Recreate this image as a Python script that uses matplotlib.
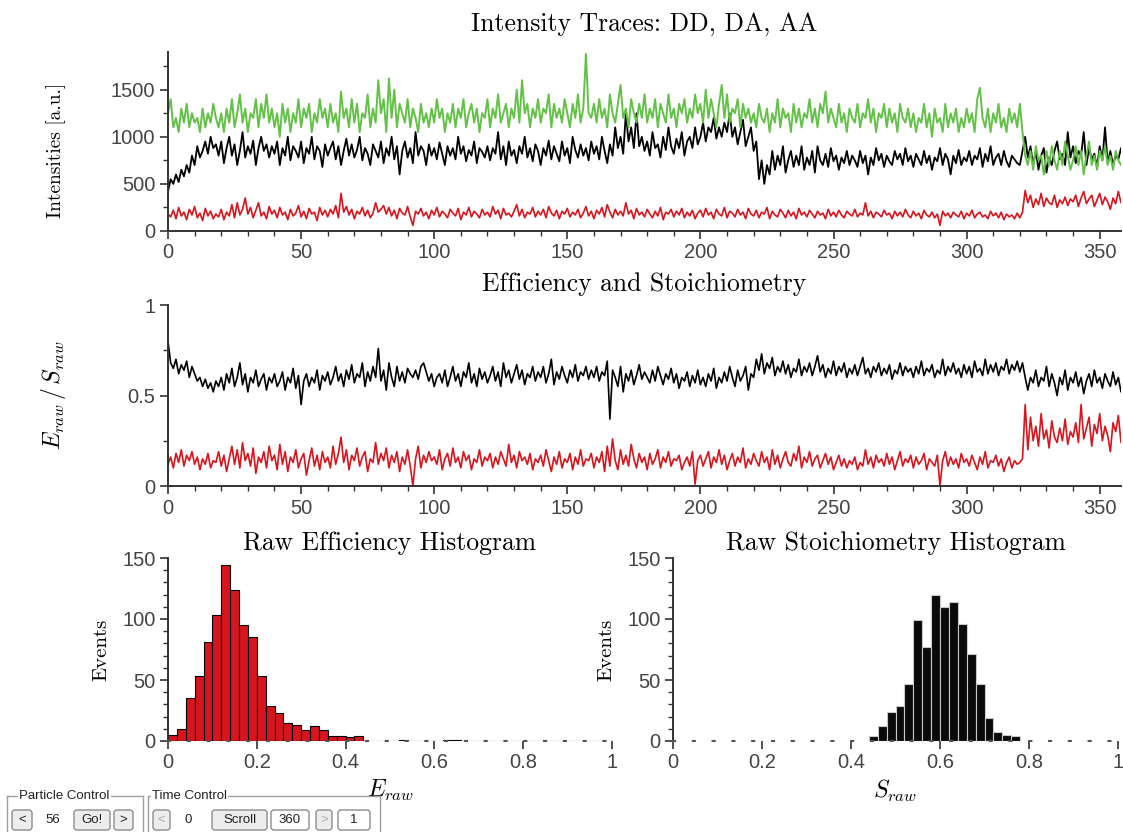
import numpy as np
import matplotlib
matplotlib.use("Agg")
import matplotlib.pyplot as plt
from matplotlib.patches import FancyBboxPatch
from matplotlib.lines import Line2D
from matplotlib.transforms import Affine2D
from matplotlib.ticker import MultipleLocator

plt.rcParams["mathtext.fontset"] = "cm"

# ---------------- data ----------------
time_arr = np.arange(0, 361)

aa_trace = [
    1250, 1400, 1100, 1200, 1050, 1300, 1150, 1350, 1100, 1250, 1150, 1200, 1050, 1300, 1100, 1250, 1150, 1350, 1200, 1100,
    1250, 1050, 1300, 1150, 1400, 1100, 1250, 1450, 1150, 1300, 1050, 1250, 1200, 1400, 1100, 1350, 1200, 1450, 1150, 1300,
    1100, 1250, 1000, 1350, 1150, 1300, 1050, 1250, 1150, 1400, 1100, 1300, 1200, 1350, 1050, 1250, 1150, 1400, 1200, 1300,
    1100, 1350, 1150, 1250, 1050, 1480, 1200, 1300, 1100, 1400, 1150, 1350, 1050, 1250, 1200, 1450, 1100, 1300, 1150, 1600,
    1250, 1400, 1050, 1620, 1200, 1500, 1100, 1350, 1250, 1150, 1400, 1100, 1300, 1200, 1050, 1350, 1150, 1250, 1100, 1300,
    1150, 1400, 1200, 1300, 1050, 1250, 1150, 1350, 1100, 1300, 1200, 1400, 1100, 1250, 1350, 1150, 1300, 1050, 1250, 1200,
    1400, 1100, 1300, 1200, 1450, 1150, 1250, 1350, 1100, 1300, 1200, 1500, 1150, 1600, 1250, 1350, 1100, 1300, 1200, 1400,
    1150, 1300, 1250, 1450, 1100, 1350, 1200, 1300, 1150, 1400, 1250, 1100, 1350, 1200, 1450, 1150, 1300, 1880, 1250, 1200,
    1350, 1150, 1400, 1200, 1300, 1100, 1450, 1250, 1150, 1350, 1550, 1200, 1300, 1100, 1400, 1250, 1150, 1350, 1200, 1450,
    1150, 1300, 1200, 1400, 1100, 1350, 1250, 1150, 1450, 1200, 1300, 1100, 1350, 1250, 1400, 1150, 1300, 1200, 1450, 1250,
    1350, 1150, 1500, 1200, 1400, 1250, 1100, 1350, 1550, 1200, 1450, 1150, 1300, 1250, 1400, 1100, 1350, 1200, 1300, 1150,
    1250, 1100, 1350, 1200, 1150, 1300, 1050, 1250, 1150, 1400, 1100, 1300, 1200, 1250, 1050, 1350, 1150, 1300, 1100, 1250,
    1200, 1400, 1150, 1300, 1100, 1350, 1250, 1480, 1150, 1300, 1200, 1100, 1350, 1150, 1250, 1050, 1300, 1200, 1150, 1350,
    1100, 1250, 1200, 1400, 1150, 1300, 1050, 1250, 1200, 1350, 1100, 1300, 1150, 1250, 1050, 1350, 1200, 1150, 1300, 1100,
    1250, 1050, 1200, 1150, 1350, 1100, 1250, 1000, 1300, 1150, 1200, 1050, 1350, 1100, 1250, 1150, 1300, 1050, 1200, 1100,
    1300, 1150, 1250, 1050, 1400, 1520, 1200, 1100, 1300, 1050, 1250, 1150, 1350, 1100, 1200, 1050, 1300, 1150, 1250, 1100,
    1350, 1050, 800, 700, 850, 650, 900, 750, 800, 600, 850, 700, 900, 750, 650, 850, 700, 950, 800, 650,
    750, 900, 700, 850, 600, 800, 950, 700, 800, 650, 850, 750, 900, 700, 800, 650, 850, 750, 700, 800,
    750,
]

dd_trace = [
    420, 550, 500, 600, 520, 650, 580, 700, 620, 800, 700, 900, 780, 850, 950, 820, 1000, 880, 920, 800,
    950, 720, 880, 1000, 800, 920, 700, 850, 1050, 780, 900, 820, 960, 700, 880, 1000, 850, 920, 780, 900,
    820, 950, 700, 880, 800, 1000, 750, 900, 850, 780, 950, 720, 880, 820, 1000, 760, 900, 850, 680, 920,
    800, 880, 950, 760, 900, 700, 850, 980, 800, 920, 780, 860, 1000, 750, 880, 820, 700, 920, 850, 780,
    950, 720, 880, 800, 1000, 760, 900, 600, 850, 950, 780, 880, 720, 1050, 800, 900, 850, 700, 920, 800,
    880, 760, 940, 820, 700, 900, 800, 880, 760, 1000, 820, 900, 740, 860, 800, 950, 720, 880, 840, 780,
    900, 750, 880, 820, 1050, 760, 900, 700, 950, 800, 860, 720, 900, 820, 1000, 780, 880, 740, 920, 850,
    700, 880, 800, 960, 760, 900, 820, 740, 950, 800, 880, 720, 1000, 860, 780, 920, 800, 880, 750, 950,
    820, 900, 760, 1000, 850, 720, 920, 800, 1100, 880, 1000, 820, 1250, 950, 1100, 880, 1250, 900, 1000, 850,
    950, 800, 1050, 880, 920, 780, 1000, 860, 1100, 900, 820, 980, 880, 1050, 800, 950, 1000, 880, 1100, 920,
    1000, 1150, 950, 1100, 1050, 1200, 980, 1100, 1000, 1150, 1050, 1250, 1000, 1100, 920, 1050, 1180, 900, 1000, 1100,
    850, 950, 550, 750, 500, 700, 600, 850, 650, 800, 700, 900, 620, 750, 850, 680, 800, 700, 900, 650,
    780, 700, 850, 620, 900, 750, 700, 820, 680, 880, 740, 800, 650, 780, 720, 850, 700, 800, 750, 680,
    850, 720, 800, 600, 780, 700, 880, 750, 820, 680, 800, 740, 700, 850, 760, 820, 700, 880, 740, 800,
    680, 820, 760, 700, 850, 720, 800, 650, 780, 740, 880, 700, 820, 760, 600, 800, 720, 860, 700, 780,
    740, 850, 700, 800, 760, 880, 680, 820, 740, 900, 700, 780, 820, 700, 850, 740, 680, 800, 760, 720,
    700, 850, 1000, 780, 900, 700, 850, 650, 800, 880, 620, 780, 700, 850, 950, 760, 820, 700, 1050, 780,
    900, 720, 850, 800, 1050, 700, 880, 760, 820, 680, 900, 750, 1100, 720, 850, 700, 800, 760, 880, 720,
    800,
]

da_trace = [
    180, 150, 220, 130, 250, 160, 200, 120, 230, 170, 260, 140, 190, 110, 240, 160, 210, 130, 180, 150,
    230, 120, 200, 160, 280, 140, 300, 170, 230, 350, 180, 250, 140, 220, 300, 160, 200, 130, 260, 180,
    220, 140, 250, 170, 200, 120, 230, 160, 190, 270, 150, 210, 130, 240, 180, 200, 110, 250, 170, 220,
    150, 230, 180, 270, 140, 400, 200, 260, 170, 230, 130, 210, 180, 250, 160, 220, 140, 190, 300, 200,
    230, 270, 180, 250, 160, 220, 130, 240, 190, 170, 260, 150, 60, 210, 180, 240, 160, 200, 130, 220,
    170, 250, 150, 210, 180, 140, 230, 190, 160, 240, 120, 200, 170, 250, 150, 210, 180, 140, 230, 170,
    200, 150, 260, 180, 220, 130, 240, 170, 190, 150, 210, 280, 160, 230, 140, 200, 180, 250, 150, 210,
    170, 230, 140, 260, 190, 160, 220, 130, 210, 180, 240, 150, 200, 170, 230, 140, 190, 260, 160, 210,
    130, 220, 180, 250, 150, 280, 200, 140, 230, 170, 210, 160, 300, 180, 220, 130, 240, 170, 200, 150,
    230, 180, 140, 210, 160, 250, 120, 200, 180, 230, 150, 210, 170, 240, 140, 200, 160, 220, 130, 190,
    220, 150, 240, 170, 200, 130, 230, 180, 160, 250, 140, 210, 190, 150, 230, 170, 200, 130, 240, 180,
    160, 220, 140, 200, 180, 250, 130, 210, 170, 150, 230, 190, 140, 220, 160, 200, 130, 240, 170, 200,
    150, 220, 180, 140, 210, 170, 190, 130, 230, 160, 200, 150, 220, 170, 140, 210, 180, 160, 230, 150,
    190, 170, 300, 160, 210, 140, 200, 180, 150, 220, 170, 190, 130, 210, 160, 200, 150, 230, 170, 140,
    210, 160, 190, 130, 220, 170, 150, 200, 140, 180, 60, 210, 160, 190, 140, 200, 170, 150, 210, 130,
    190, 160, 220, 140, 180, 200, 150, 170, 130, 210, 160, 190, 140, 200, 120, 180, 150, 170, 130, 190,
    140, 200, 430, 300, 380, 250, 340, 280, 400, 260, 350, 300, 280, 380, 250, 330, 290, 360, 270, 340,
    310, 380, 260, 350, 420, 290, 340, 380, 260, 330, 400, 280, 360, 310, 230, 350, 290, 420, 300, 360,
    330,
]

s_raw = [
    0.80, 0.68, 0.65, 0.70, 0.62, 0.67, 0.64, 0.69, 0.60, 0.66, 0.62, 0.58, 0.60, 0.55, 0.59, 0.54, 0.57, 0.52, 0.58, 0.55,
    0.60, 0.53, 0.62, 0.57, 0.65, 0.55, 0.60, 0.68, 0.56, 0.62, 0.52, 0.60, 0.57, 0.64, 0.55, 0.59, 0.62, 0.53, 0.60, 0.57,
    0.62, 0.55, 0.58, 0.63, 0.53, 0.60, 0.57, 0.65, 0.54, 0.61, 0.45, 0.58, 0.62, 0.55, 0.60, 0.57, 0.64, 0.53, 0.61, 0.58,
    0.63, 0.56, 0.60, 0.66, 0.58, 0.62, 0.55, 0.64, 0.59, 0.67, 0.57, 0.62, 0.60, 0.68, 0.55, 0.63, 0.58, 0.66, 0.60, 0.76,
    0.58, 0.64, 0.53, 0.68, 0.60, 0.55, 0.66, 0.58, 0.63, 0.57, 0.65, 0.62, 0.60, 0.64, 0.59, 0.66, 0.68, 0.63, 0.58, 0.62,
    0.55, 0.60, 0.62, 0.57, 0.64, 0.55, 0.60, 0.66, 0.58, 0.62, 0.55, 0.63, 0.60, 0.68, 0.57, 0.62, 0.55, 0.65, 0.59, 0.63,
    0.57, 0.61, 0.66, 0.58, 0.63, 0.55, 0.68, 0.60, 0.64, 0.57, 0.62, 0.67, 0.59, 0.64, 0.56, 0.62, 0.60, 0.66, 0.58, 0.63,
    0.60, 0.66, 0.57, 0.62, 0.70, 0.56, 0.63, 0.59, 0.66, 0.61, 0.57, 0.64, 0.60, 0.67, 0.58, 0.63, 0.61, 0.66, 0.59, 0.64,
    0.60, 0.66, 0.58, 0.63, 0.61, 0.69, 0.37, 0.64, 0.60, 0.55, 0.66, 0.52, 0.62, 0.58, 0.64, 0.56, 0.61, 0.67, 0.59, 0.63,
    0.60, 0.57, 0.64, 0.58, 0.66, 0.61, 0.56, 0.62, 0.59, 0.65, 0.57, 0.62, 0.54, 0.60, 0.58, 0.63, 0.55, 0.61, 0.57, 0.64,
    0.56, 0.60, 0.55, 0.62, 0.58, 0.65, 0.54, 0.60, 0.57, 0.63, 0.58, 0.66, 0.60, 0.55, 0.64, 0.58, 0.61, 0.66, 0.53, 0.62,
    0.60, 0.70, 0.64, 0.73, 0.62, 0.68, 0.65, 0.71, 0.61, 0.66, 0.63, 0.69, 0.62, 0.67, 0.60, 0.65, 0.63, 0.70, 0.61, 0.66,
    0.63, 0.68, 0.61, 0.66, 0.72, 0.63, 0.67, 0.60, 0.65, 0.62, 0.69, 0.61, 0.66, 0.63, 0.68, 0.60, 0.65, 0.62, 0.67, 0.61,
    0.66, 0.71, 0.62, 0.65, 0.60, 0.66, 0.63, 0.68, 0.61, 0.65, 0.62, 0.67, 0.59, 0.64, 0.62, 0.68, 0.61, 0.66, 0.63, 0.65,
    0.60, 0.66, 0.62, 0.69, 0.61, 0.65, 0.63, 0.67, 0.60, 0.64, 0.62, 0.70, 0.61, 0.66, 0.63, 0.68, 0.62, 0.65, 0.60, 0.67,
    0.62, 0.66, 0.60, 0.69, 0.63, 0.65, 0.61, 0.70, 0.62, 0.67, 0.63, 0.68, 0.61, 0.66, 0.64, 0.70, 0.62, 0.67, 0.64, 0.69,
    0.63, 0.68, 0.60, 0.53, 0.60, 0.57, 0.64, 0.55, 0.60, 0.58, 0.66, 0.55, 0.62, 0.57, 0.50, 0.60, 0.56, 0.64, 0.53, 0.60,
    0.57, 0.63, 0.55, 0.60, 0.51, 0.58, 0.62, 0.55, 0.64, 0.57, 0.60, 0.54, 0.62, 0.58, 0.55, 0.63, 0.56, 0.60, 0.52, 0.59,
    0.56,
]

e_raw = [
    0.12, 0.16, 0.10, 0.18, 0.13, 0.20, 0.11, 0.17, 0.14, 0.19, 0.12, 0.16, 0.09, 0.15, 0.12, 0.18, 0.10, 0.14, 0.13, 0.19,
    0.11, 0.17, 0.08, 0.15, 0.22, 0.12, 0.20, 0.10, 0.24, 0.14, 0.18, 0.11, 0.21, 0.07, 0.16, 0.13, 0.19, 0.10, 0.22, 0.14,
    0.17, 0.09, 0.23, 0.12, 0.19, 0.08, 0.16, 0.13, 0.20, 0.10, 0.15, 0.18, 0.06, 0.14, 0.21, 0.11, 0.17, 0.09, 0.19, 0.13,
    0.16, 0.10, 0.22, 0.12, 0.18, 0.27, 0.13, 0.20, 0.09, 0.17, 0.14, 0.21, 0.11, 0.16, 0.19, 0.08, 0.15, 0.13, 0.24, 0.12,
    0.18, 0.14, 0.21, 0.10, 0.17, 0.13, 0.19, 0.08, 0.16, 0.12, 0.20, 0.11, 0.00, 0.15, 0.22, 0.10, 0.17, 0.13, 0.19, 0.14,
    0.16, 0.12, 0.20, 0.09, 0.15, 0.18, 0.11, 0.21, 0.13, 0.16, 0.10, 0.19, 0.14, 0.17, 0.09, 0.15, 0.13, 0.20, 0.11, 0.16,
    0.14, 0.18, 0.10, 0.16, 0.12, 0.19, 0.15, 0.11, 0.23, 0.13, 0.17, 0.10, 0.19, 0.14, 0.16, 0.12, 0.18, 0.09, 0.15, 0.13,
    0.17, 0.11, 0.20, 0.14, 0.08, 0.16, 0.12, 0.19, 0.10, 0.15, 0.13, 0.18, 0.09, 0.16, 0.12, 0.20, 0.11, 0.15, 0.14, 0.18,
    0.10, 0.16, 0.13, 0.19, 0.08, 0.22, 0.11, 0.26, 0.14, 0.09, 0.20, 0.12, 0.17, 0.11, 0.23, 0.15, 0.10, 0.18, 0.13, 0.16,
    0.09, 0.18, 0.12, 0.15, 0.20, 0.10, 0.16, 0.13, 0.19, 0.11, 0.15, 0.14, 0.17, 0.09, 0.13, 0.16, 0.11, 0.19, 0.01, 0.14,
    0.17, 0.11, 0.15, 0.19, 0.10, 0.16, 0.13, 0.20, 0.12, 0.17, 0.09, 0.14, 0.18, 0.11, 0.16, 0.13, 0.21, 0.10, 0.15, 0.12,
    0.18, 0.14, 0.11, 0.19, 0.13, 0.16, 0.09, 0.20, 0.12, 0.17, 0.10, 0.15, 0.19, 0.13, 0.11, 0.18, 0.14, 0.22, 0.10, 0.16,
    0.13, 0.19, 0.11, 0.15, 0.17, 0.10, 0.14, 0.18, 0.12, 0.16, 0.09, 0.13, 0.17, 0.11, 0.15, 0.10, 0.14, 0.12, 0.16, 0.09,
    0.13, 0.11, 0.20, 0.12, 0.16, 0.10, 0.17, 0.13, 0.15, 0.11, 0.18, 0.12, 0.16, 0.09, 0.14, 0.19, 0.11, 0.15, 0.13, 0.17,
    0.10, 0.16, 0.12, 0.14, 0.18, 0.09, 0.15, 0.13, 0.11, 0.17, 0.00, 0.14, 0.19, 0.11, 0.16, 0.12, 0.15, 0.10, 0.18, 0.13,
    0.15, 0.11, 0.17, 0.13, 0.09, 0.16, 0.12, 0.19, 0.10, 0.14, 0.13, 0.17, 0.11, 0.15, 0.08, 0.13, 0.16, 0.10, 0.14, 0.12,
    0.13, 0.15, 0.45, 0.20, 0.38, 0.25, 0.33, 0.22, 0.40, 0.26, 0.31, 0.21, 0.36, 0.27, 0.24, 0.32, 0.25, 0.37, 0.23, 0.30,
    0.27, 0.35, 0.24, 0.45, 0.26, 0.32, 0.38, 0.22, 0.34, 0.29, 0.40, 0.25, 0.33, 0.28, 0.19, 0.35, 0.30, 0.39, 0.24, 0.36,
    0.31,
]

# histogram counts, bins of 0.02 from 0 to 1
bin_edges = np.round(np.arange(0, 1.0001, 0.02), 2)
e_counts = [5, 10, 35, 53, 81, 103, 144, 124, 95, 85, 53, 29, 23, 15, 13, 9, 12, 9, 4, 4,
            3, 4, 0, 0, 0, 0, 1, 0, 0, 0, 0, 1, 1, 0, 0, 0, 0, 0, 0, 0,
            0, 0, 0, 0, 0, 0, 0, 0, 0, 0]
s_counts = [0, 0, 0, 0, 0, 0, 0, 0, 0, 0, 0, 0, 0, 0, 0, 0, 0, 0, 0, 0,
            0, 0, 4, 12, 24, 29, 47, 99, 77, 120, 110, 114, 96, 71, 47, 19, 7, 5, 4, 0,
            0, 0, 0, 0, 0, 0, 0, 0, 0, 0]

# ---------------- styling ----------------
W, H = 1123, 832
green = "#62c146"
red = "#d8141c"
tick_grey = "#444444"
serif = "cmr10"
tick_font = "Liberation Sans"


def style_axis(ax):
    for side in ("top", "right"):
        ax.spines[side].set_visible(False)
    for side in ("left", "bottom"):
        ax.spines[side].set_color("#333333")
        ax.spines[side].set_linewidth(1.4)
    ax.tick_params(which="major", direction="out", length=6, width=1.2,
                   colors="#333333", labelcolor=tick_grey, labelsize=14.5, pad=3)
    ax.tick_params(which="minor", direction="out", length=3.5, width=1.0,
                   colors="#333333")
    for lab in ax.get_xticklabels() + ax.get_yticklabels():
        lab.set_fontfamily(tick_font)


def box(px_left, px_top, px_right, px_bottom):
    return [px_left / W, 1 - px_bottom / H,
            (px_right - px_left) / W, (px_bottom - px_top) / H]


fig = plt.figure(figsize=(W / 100, H / 100), dpi=100)

# ---- intensity traces ----
ax1 = fig.add_axes(box(168, 52, 1121, 231))
ax1.plot(time_arr, dd_trace, color="black", lw=1.3)
ax1.plot(time_arr, aa_trace, color=green, lw=1.4)
ax1.plot(time_arr, da_trace, color=red, lw=1.2)
ax1.set_xlim(0, 358)
ax1.set_ylim(0, 1900)
ax1.xaxis.set_major_locator(MultipleLocator(50))
ax1.xaxis.set_minor_locator(MultipleLocator(10))
ax1.yaxis.set_major_locator(MultipleLocator(500))
ax1.yaxis.set_minor_locator(MultipleLocator(250))
ax1.set_title("Intensity Traces: DD, DA, AA", family=serif, fontsize=18.5, pad=15)
ax1.set_ylabel("Intensities [a.u.]", family=serif, fontsize=14)
ax1.yaxis.set_label_coords(-0.107, 0.45)
style_axis(ax1)

# ---- efficiency / stoichiometry traces ----
ax2 = fig.add_axes(box(168, 305, 1121, 486))
ax2.plot(time_arr, s_raw, color="black", lw=1.2)
ax2.plot(time_arr, e_raw, color=red, lw=1.2)
ax2.set_xlim(0, 358)
ax2.set_ylim(0, 1)
ax2.xaxis.set_major_locator(MultipleLocator(50))
ax2.xaxis.set_minor_locator(MultipleLocator(10))
ax2.yaxis.set_minor_locator(MultipleLocator(0.25))
ax2.set_yticks([0, 0.5, 1])
ax2.set_yticklabels(["0", "0.5", "1"])
ax2.set_title("Efficiency and Stoichiometry", family=serif, fontsize=18.5, pad=10)
ax2.set_ylabel(r"$E_{raw}\,/\,S_{raw}$", fontsize=17)
ax2.yaxis.set_label_coords(-0.105, 0.5)
style_axis(ax2)

# ---- histograms ----
hist_specs = [
    (box(168, 558, 612, 741), e_counts, red, "black", "Raw Efficiency Histogram", r"$E_{raw}$"),
    (box(673, 558, 1118, 741), s_counts, "#0a0a0a", "#c8c8c8", "Raw Stoichiometry Histogram", r"$S_{raw}$"),
]
for rect, counts, face, edge, title, xlab in hist_specs:
    ax = fig.add_axes(rect)
    ax.hist(bin_edges[:-1], bins=bin_edges, weights=counts,
            color=face, edgecolor=edge, linewidth=0.8)
    ax.set_xlim(0, 1)
    ax.set_ylim(0, 150)
    ax.yaxis.set_major_locator(MultipleLocator(50))
    ax.yaxis.set_minor_locator(MultipleLocator(10))
    ax.set_xticks([0, 0.2, 0.4, 0.6, 0.8, 1])
    ax.set_xticklabels(["0", "0.2", "0.4", "0.6", "0.8", "1"])
    ax.set_title(title, family=serif, fontsize=18.5, pad=6)
    ax.set_ylabel("Events", family=serif, fontsize=15)
    ax.yaxis.set_label_coords(-0.13, 0.5)
    ax.set_xlabel(xlab, fontsize=17)
    ax.xaxis.set_label_coords(0.5, -0.2)
    style_axis(ax)
    ax.spines["bottom"].set_color("#555555")
    ax.spines["bottom"].set_linestyle((0, (1, 8.5)))
    ax.spines["bottom"].set_linewidth(1.5)

# ---- control panel widgets (pixel coords from top-left) ----
px = Affine2D().scale(1 / W, -1 / H).translate(0, 1) + fig.transFigure


def group(x0, x1, label, label_x):
    fig.add_artist(Line2D([x0, x1], [796, 796], color="#a0a0a0", lw=1, transform=px))
    fig.add_artist(Line2D([x0, x0], [796, 840], color="#a0a0a0", lw=1, transform=px))
    fig.add_artist(Line2D([x1, x1], [796, 840], color="#a0a0a0", lw=1, transform=px))
    fig.text(label_x, 796, label, transform=px, fontsize=9.5, family=tick_font,
             color="#222222", va="center", ha="left",
             bbox=dict(facecolor="white", edgecolor="none", pad=1))


def button(x0, x1, label, face="#ededed", text_color="#222222"):
    fig.add_artist(FancyBboxPatch((x0, 810), x1 - x0, 20,
                                  boxstyle="round,pad=0,rounding_size=3",
                                  facecolor=face, edgecolor="#8c8c8c", lw=1,
                                  transform=px))
    fig.text((x0 + x1) / 2, 820, label, transform=px, fontsize=9.5,
             family=tick_font, color=text_color, ha="center", va="center")


group(7, 143, "Particle Control", 19)
group(148, 380, "Time Control", 152)
button(12, 32, "<")
fig.text(53, 820, "56", transform=px, fontsize=9.5, family=tick_font,
         color="#222222", ha="center", va="center")
button(74, 110, "Go!")
button(114, 133, ">")
button(153, 170, "<", text_color="#aaaaaa")
fig.text(188, 820, "0", transform=px, fontsize=9.5, family=tick_font,
         color="#222222", ha="center", va="center")
button(212, 267, "Scroll")
button(271, 309, "360", face="white")
button(316, 332, ">", text_color="#aaaaaa")
button(338, 370, "1", face="white")

fig.savefig("out.png", dpi=100)
